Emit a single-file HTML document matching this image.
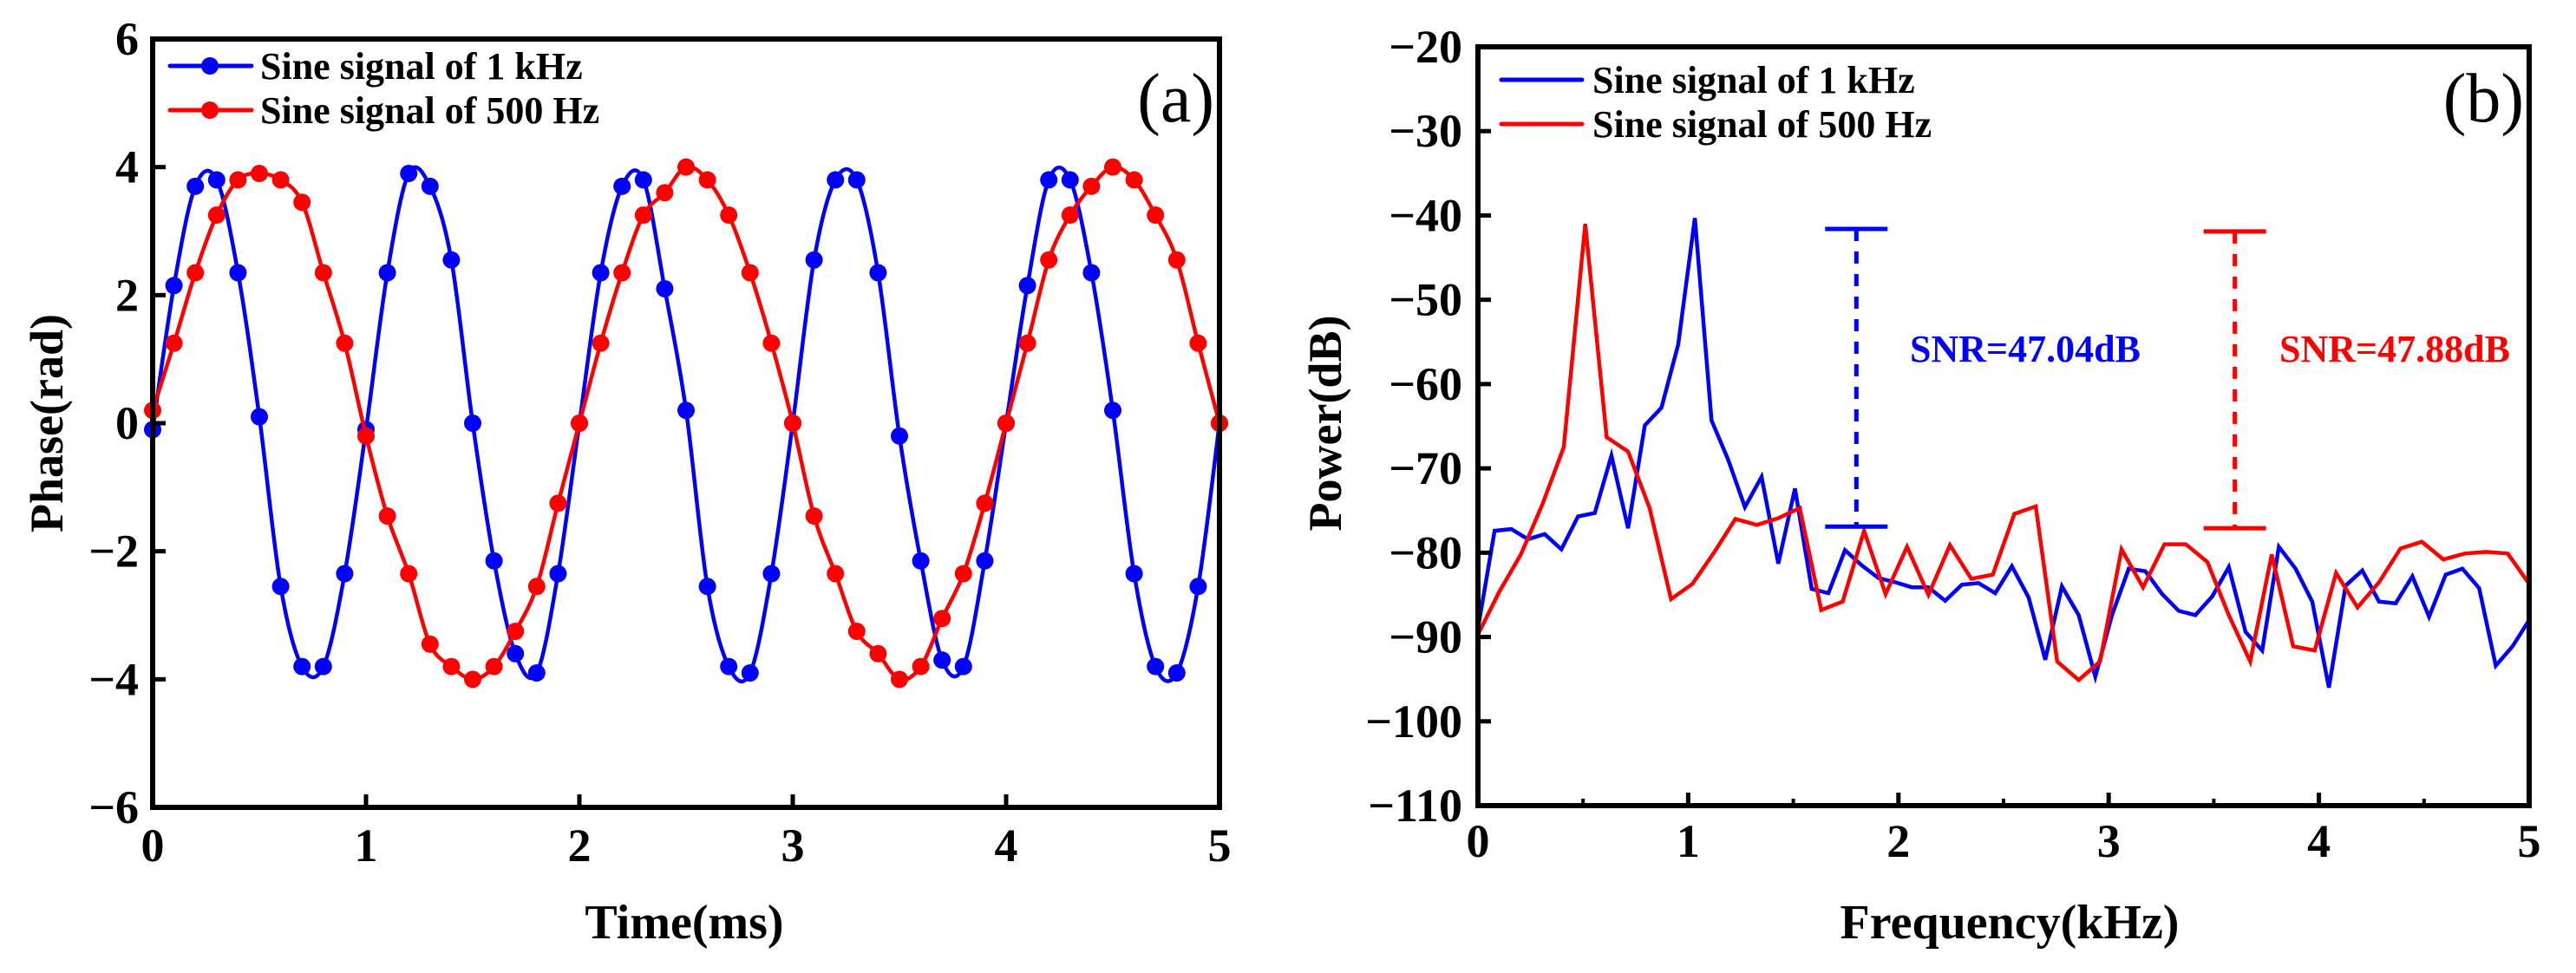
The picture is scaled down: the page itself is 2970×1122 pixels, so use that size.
<!DOCTYPE html>
<html><head><meta charset="utf-8"><style>
html,body{margin:0;padding:0;background:#fff;}
svg{display:block;font-family:"Liberation Serif",serif;}
</style></head><body>
<svg id="fig" width="2970" height="1122" viewBox="0 0 2970 1122" xmlns="http://www.w3.org/2000/svg">
<rect width="2970" height="1122" fill="#fff"/>
<g id="ga"></g>
<g id="gb"></g>
</svg>
<script>
// ---------- Panel (a) data ----------
const timeStep = 0.1;
const blueTime = [-0.1,2.15,3.7,3.8,2.35,0.1,-2.55,-3.8,-3.8,-2.35,-0.1,2.35,3.9,3.7,2.55,0,-2.15,-3.6,-3.9,-2.35,0,2.35,3.7,3.8,2.1,0.2,-2.55,-3.8,-3.9,-2.35,0,2.55,3.8,3.8,2.35,-0.2,-2.15,-3.7,-3.8,-2.15,0,2.15,3.8,3.8,2.35,0.2,-2.35,-3.8,-3.9,-2.55,0];
const redTime = [0.2,1.25,2.35,3.25,3.8,3.9,3.8,3.45,2.35,1.25,-0.2,-1.45,-2.35,-3.45,-3.8,-4.0,-3.8,-3.25,-2.55,-1.25,0,1.25,2.35,3.25,3.6,4.0,3.8,3.25,2.35,1.25,0,-1.45,-2.35,-3.25,-3.6,-4.0,-3.8,-3.05,-2.35,-1.25,0,1.25,2.55,3.25,3.7,4.0,3.8,3.25,2.55,1.25,0];
const aXTicks = [0,1,2,3,4,5];
const aYTicks = [-6,-4,-2,0,2,4,6];
const aYLabels = ["\u22126","\u22124","\u22122","0","2","4","6"];

// ---------- Panel (b) data ----------
const blueSpec = [-89,-77.4,-77.2,-78.4,-77.8,-79.6,-75.7,-75.3,-68.5,-77.1,-64.9,-62.8,-55.3,-40.3,-64.3,-69.0,-74.6,-71.0,-81.3,-72.4,-84.3,-84.8,-79.7,-81.5,-83.0,-83.5,-84.1,-84.1,-85.7,-83.8,-83.6,-84.8,-81.6,-85.3,-92.7,-84.0,-87.4,-94.7,-87.4,-81.9,-82.2,-84.9,-86.9,-87.4,-85.2,-81.7,-89.4,-91.6,-79.3,-81.9,-85.8,-96.0,-83.9,-82.1,-85.8,-86.0,-82.8,-87.6,-82.6,-81.9,-84.2,-93.4,-91.1,-88.0];
const redSpec = [-89.7,-84.6,-80.2,-74.3,-67.5,-41.0,-66.3,-68.0,-74.7,-85.5,-83.7,-80.0,-76.0,-76.7,-75.9,-74.7,-86.8,-85.8,-77.4,-84.9,-79.3,-85.0,-79.1,-83.1,-82.6,-75.4,-74.5,-92.9,-95.1,-92.9,-79.6,-84.1,-79.0,-79.0,-81.1,-87.4,-92.9,-80.2,-91.1,-91.6,-82.4,-86.5,-83.5,-79.5,-78.7,-80.8,-80.1,-79.9,-80.1,-83.7];
const bXTicks = [0,1,2,3,4,5];
const bXMinor = [0.5,1.5,2.5,3.5,4.5];
const bYTicks = [-110,-100,-90,-80,-70,-60,-50,-40,-30,-20];
const snrBlue = [1.8, -41.6, -76.9];
const snrRed = [3.6, -41.9, -77.1];
const snrLabels = ["SNR=47.04dB","SNR=47.88dB"];

const NS="http://www.w3.org/2000/svg";
function mk(parent,tag,attrs,text){const e=document.createElementNS(NS,tag);for(const k in attrs)e.setAttribute(k,attrs[k]);if(text!==undefined)e.textContent=text;parent.appendChild(e);return e;}

// ----- Panel a -----
const ga=document.getElementById('ga');
const A={l:176,r:1406,t:45,b:931};
const ax=v=>A.l+(v-0)/5*(A.r-A.l);
const ay=v=>A.b-(v+6)/12*(A.b-A.t);
function spline(pts){let d=`M${pts[0][0]},${pts[0][1]}`;for(let i=0;i<pts.length-1;i++){const p0=pts[Math.max(0,i-1)],p1=pts[i],p2=pts[i+1],p3=pts[Math.min(pts.length-1,i+2)];const c1=[p1[0]+(p2[0]-p0[0])/6,p1[1]+(p2[1]-p0[1])/6];const c2=[p2[0]-(p3[0]-p1[0])/6,p2[1]-(p3[1]-p1[1])/6];d+=` C${c1[0].toFixed(1)},${c1[1].toFixed(1)} ${c2[0].toFixed(1)},${c2[1].toFixed(1)} ${p2[0].toFixed(1)},${p2[1].toFixed(1)}`;}return d;}
function drawA(vals,color,name){
  const g=mk(ga,'g',{});
  
  
  const pts=vals.map((v,i)=>[ax(i*timeStep),ay(v)]);
  const p=mk(g,'path',{d:spline(pts),fill:'none',stroke:color,'stroke-width':4.5});
  
  
  pts.forEach(q=>{const c=mk(g,'circle',{cx:q[0],cy:q[1],r:10,fill:color});
    
    });
}
drawA(blueTime,'#0000ff','series-1khz');
drawA(redTime,'#ff0000','series-500hz');
const fa=mk(ga,'rect',{x:A.l,y:A.t,width:A.r-A.l,height:A.b-A.t,fill:'none',stroke:'#000','stroke-width':6});

aXTicks.forEach(v=>{mk(ga,'line',{x1:ax(v),x2:ax(v),y1:A.b,y2:A.b-15,stroke:'#000','stroke-width':5});
  const t=mk(ga,'text',{x:ax(v),y:993,'text-anchor':'middle','font-size':54,'font-weight':'bold'},String(v));
  });
aYTicks.forEach((v,i)=>{mk(ga,'line',{x1:A.l,x2:A.l+15,y1:ay(v),y2:ay(v),stroke:'#000','stroke-width':5});
  const t=mk(ga,'text',{x:160,y:ay(v)+18,'text-anchor':'end','font-size':54,'font-weight':'bold'},aYLabels[i]);
  });
let t=mk(ga,'text',{x:789,y:1082,'text-anchor':'middle','font-size':56,'font-weight':'bold'},'Time(ms)');

t=mk(ga,'text',{x:0,y:0,transform:'translate(72,488) rotate(-90)','text-anchor':'middle','font-size':54,'font-weight':'bold'},'Phase(rad)');

t=mk(ga,'text',{x:1400,y:140,'text-anchor':'end','font-size':80},'(a)');

[['Sine signal of 1 kHz','#0000ff',76],['Sine signal of 500 Hz','#ff0000',127]].forEach(([lab,c,y])=>{
  const g=mk(ga,'g',{});
  
  mk(g,'line',{x1:196,x2:290,y1:y,y2:y,stroke:c,'stroke-width':5,'stroke-linecap':'round'});
  mk(g,'circle',{cx:242,cy:y,r:10,fill:c});
  mk(g,'text',{x:300,y:y+15,'font-size':44,'font-weight':'bold'},lab);
});

// ----- Panel b -----
const gb=document.getElementById('gb');
const B={l:1704,r:2916,t:54,b:929};
const bx=v=>B.l+v/5*(B.r-B.l);
const by=v=>B.b-(v+110)/90*(B.b-B.t);
function drawB(vals,color,name){
  const n=vals.length-1;
  const d=vals.map((v,i)=>(i?'L':'M')+bx(i*5/n).toFixed(1)+','+by(v).toFixed(1)).join(' ');
  const p=mk(gb,'path',{d:d,fill:'none',stroke:color,'stroke-width':4.5,'stroke-linejoin':'miter'});
  
  
}
drawB(blueSpec,'#0000ff','spectrum-1khz');
drawB(redSpec,'#ff0000','spectrum-500hz');
const fb=mk(gb,'rect',{x:B.l,y:B.t,width:B.r-B.l,height:B.b-B.t,fill:'none',stroke:'#000','stroke-width':6});

bXTicks.forEach(v=>{mk(gb,'line',{x1:bx(v),x2:bx(v),y1:B.b,y2:B.b-15,stroke:'#000','stroke-width':5});
  const t=mk(gb,'text',{x:bx(v),y:988,'text-anchor':'middle','font-size':54,'font-weight':'bold'},String(v));
  });
bXMinor.forEach(v=>mk(gb,'line',{x1:bx(v),x2:bx(v),y1:B.b,y2:B.b-8,stroke:'#000','stroke-width':4}));
bYTicks.forEach(v=>{mk(gb,'line',{x1:B.l,x2:B.l+15,y1:by(v),y2:by(v),stroke:'#000','stroke-width':5});
  const t=mk(gb,'text',{x:1686,y:by(v)+18,'text-anchor':'end','font-size':54,'font-weight':'bold'},'\u2212'+Math.abs(v));
  });
t=mk(gb,'text',{x:2317,y:1082,'text-anchor':'middle','font-size':56,'font-weight':'bold'},'Frequency(kHz)');

t=mk(gb,'text',{x:0,y:0,transform:'translate(1546,488) rotate(-90)','text-anchor':'middle','font-size':54,'font-weight':'bold'},'Power(dB)');

t=mk(gb,'text',{x:2910,y:140,'text-anchor':'end','font-size':80},'(b)');

[['Sine signal of 1 kHz','#0000ff',92],['Sine signal of 500 Hz','#ff0000',143]].forEach(([lab,c,y])=>{
  const g=mk(gb,'g',{});
  
  mk(g,'line',{x1:1731,x2:1824,y1:y,y2:y,stroke:c,'stroke-width':5,'stroke-linecap':'round'});
  mk(g,'text',{x:1836,y:y+15,'font-size':44,'font-weight':'bold'},lab);
});
[[snrBlue,'#0000ff',snrLabels[0],2202],[snrRed,'#ff0000',snrLabels[1],2628]].forEach(([s,c,lab,tx])=>{
  const g=mk(gb,'g',{});
  
  const x=bx(s[0]),y1=by(s[1]),y2=by(s[2]);
  mk(g,'line',{x1:x,x2:x,y1:y1,y2:y2,stroke:c,'stroke-width':5,'stroke-dasharray':'14 12'});
  mk(g,'line',{x1:x-36,x2:x+36,y1:y1,y2:y1,stroke:c,'stroke-width':5});
  mk(g,'line',{x1:x-36,x2:x+36,y1:y2,y2:y2,stroke:c,'stroke-width':5});
  mk(g,'text',{x:tx,y:417,'font-size':44,'font-weight':'bold',fill:c},lab);
});
</script>
</body></html>
